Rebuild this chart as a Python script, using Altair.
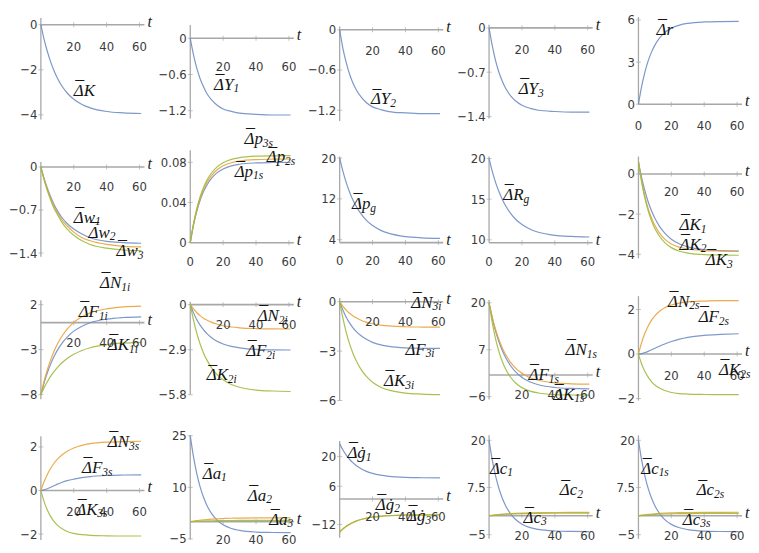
import altair as alt
import pandas as pd

# ---------------- data ----------------
T = [0, 2, 4, 6, 8, 10, 13, 16, 20, 25, 30, 40, 50, 61]

dK = [0, -0.66, -1.20, -1.66, -2.04, -2.36, -2.74, -3.03, -3.31, -3.54, -3.69, -3.85, -3.91, -3.94]
dY1 = [0, -0.28, -0.50, -0.67, -0.80, -0.91, -1.02, -1.10, -1.17, -1.21, -1.24, -1.26, -1.27, -1.27]
dY2 = [0, -0.28, -0.49, -0.66, -0.79, -0.89, -1.00, -1.08, -1.15, -1.19, -1.22, -1.24, -1.25, -1.25]
dY3 = [0, -0.29, -0.52, -0.70, -0.84, -0.95, -1.07, -1.15, -1.22, -1.27, -1.30, -1.32, -1.33, -1.33]
dr = [0, 1.30, 2.32, 3.12, 3.73, 4.21, 4.74, 5.10, 5.42, 5.64, 5.76, 5.86, 5.89, 5.90]

dw1 = [0, -0.19, -0.35, -0.49, -0.61, -0.71, -0.83, -0.92, -1.01, -1.09, -1.15, -1.21, -1.23, -1.24]
dw2 = [0, -0.20, -0.37, -0.51, -0.64, -0.74, -0.87, -0.96, -1.06, -1.15, -1.20, -1.26, -1.29, -1.30]
dw3 = [0, -0.21, -0.39, -0.54, -0.67, -0.77, -0.91, -1.01, -1.11, -1.20, -1.26, -1.32, -1.35, -1.36]
dp1s = [0, 0.0177, 0.0314, 0.0422, 0.0506, 0.0570, 0.0642, 0.0692, 0.0734, 0.0765, 0.0781, 0.0794, 0.0798, 0.0800]
dp2s = [0, 0.0184, 0.0327, 0.0440, 0.0526, 0.0594, 0.0669, 0.0721, 0.0765, 0.0796, 0.0813, 0.0827, 0.0831, 0.0833]
dp3s = [0, 0.0192, 0.0341, 0.0458, 0.0548, 0.0618, 0.0696, 0.0750, 0.0796, 0.0829, 0.0846, 0.0861, 0.0865, 0.0867]
dpg = [20, 17.38, 15.18, 13.36, 11.83, 10.57, 9.05, 7.88, 6.76, 5.83, 5.23, 4.61, 4.37, 4.26]
dRg = [20, 18.39, 17.04, 15.93, 14.99, 14.21, 13.28, 12.56, 11.87, 11.30, 10.93, 10.55, 10.41, 10.34]
dK1 = [0.6, -0.21, -0.87, -1.41, -1.85, -2.21, -2.64, -2.95, -3.25, -3.49, -3.63, -3.77, -3.82, -3.84]
dK2 = [0.6, -0.38, -1.15, -1.75, -2.21, -2.57, -2.97, -3.25, -3.49, -3.65, -3.74, -3.82, -3.84, -3.85]
dK3 = [0.6, -0.43, -1.23, -1.86, -2.34, -2.72, -3.13, -3.42, -3.67, -3.85, -3.94, -4.02, -4.04, -4.05]

dN1i = [-8, -6.48, -5.20, -4.11, -3.18, -2.41, -1.46, -0.71, 0.03, 0.66, 1.09, 1.54, 1.75, 1.84]
dF1i = [-8, -6.66, -5.54, -4.58, -3.76, -3.08, -2.25, -1.60, -0.94, -0.39, -0.01, 0.39, 0.57, 0.65]
dK1i = [-8, -7.22, -6.53, -5.94, -5.43, -4.99, -4.43, -3.98, -3.52, -3.09, -2.79, -2.44, -2.27, -2.18]
dN2i = [0, -0.28, -0.52, -0.71, -0.87, -0.99, -1.14, -1.25, -1.36, -1.44, -1.49, -1.54, -1.56, -1.57]
dF2i = [0, -0.53, -0.97, -1.32, -1.61, -1.85, -2.13, -2.34, -2.53, -2.69, -2.78, -2.88, -2.91, -2.92]
dK2i = [0, -1.01, -1.85, -2.53, -3.09, -3.54, -4.07, -4.47, -4.84, -5.14, -5.32, -5.50, -5.56, -5.59]
dN3i = [0, -0.28, -0.51, -0.70, -0.85, -0.98, -1.13, -1.24, -1.34, -1.42, -1.47, -1.52, -1.54, -1.55]
dF3i = [0, -0.52, -0.94, -1.29, -1.57, -1.80, -2.07, -2.27, -2.47, -2.62, -2.71, -2.80, -2.83, -2.84]
dK3i = [0, -1.02, -1.86, -2.55, -3.11, -3.57, -4.11, -4.51, -4.89, -5.19, -5.37, -5.55, -5.61, -5.64]
dN1s = [20, 15.91, 12.54, 9.81, 7.55, 5.72, 3.57, 1.97, 0.45, -0.75, -1.47, -2.19, -2.44, -2.55]
dF1s = [20, 15.67, 12.11, 9.22, 6.83, 4.90, 2.62, 0.93, -0.67, -1.94, -2.71, -3.47, -3.73, -3.85]
dK1s = [20, 14.34, 9.94, 6.48, 3.82, 1.75, -0.56, -2.14, -3.50, -4.47, -4.99, -5.42, -5.55, -5.60]
dN2s = [0, 0.53, 0.94, 1.27, 1.52, 1.71, 1.93, 2.08, 2.20, 2.29, 2.34, 2.38, 2.40, 2.40]
dF2s = [0, 0.02, 0.06, 0.12, 0.19, 0.26, 0.36, 0.45, 0.56, 0.67, 0.75, 0.84, 0.88, 0.91]
dK2s = [0, -0.46, -0.80, -1.05, -1.25, -1.39, -1.54, -1.64, -1.73, -1.78, -1.80, -1.82, -1.83, -1.83]

dN3s = [0, 0.41, 0.75, 1.02, 1.25, 1.43, 1.64, 1.80, 1.95, 2.07, 2.15, 2.22, 2.24, 2.26]
dF3s = [0, 0.03, 0.08, 0.15, 0.22, 0.29, 0.38, 0.45, 0.52, 0.59, 0.64, 0.69, 0.71, 0.72]
dK3s = [0, -0.52, -0.91, -1.20, -1.42, -1.59, -1.76, -1.88, -1.97, -2.03, -2.06, -2.08, -2.09, -2.09]
da1 = [25, 18.77, 13.92, 10.11, 7.18, 4.89, 2.35, 0.61, -0.89, -1.96, -2.52, -3.00, -3.14, -3.20]
da2 = [0, 0.18, 0.33, 0.45, 0.56, 0.65, 0.76, 0.85, 0.93, 1.01, 1.06, 1.11, 1.13, 1.14]
da3 = [0, 0.06, 0.11, 0.16, 0.19, 0.23, 0.26, 0.29, 0.32, 0.35, 0.37, 0.39, 0.39, 0.40]
dg1 = [26, 23.09, 20.69, 18.74, 17.13, 15.82, 14.30, 13.15, 12.07, 11.22, 10.70, 10.19, 10.01, 9.93]
dg2 = [-15.7, -14.20, -12.96, -11.96, -11.13, -10.45, -9.67, -9.08, -8.52, -8.08, -7.82, -7.55, -7.46, -7.42]
dg3 = [-15.5, -14.05, -12.86, -11.89, -11.09, -10.44, -9.68, -9.12, -8.58, -8.16, -7.90, -7.64, -7.56, -7.52]
dc1 = [20, 14.65, 10.49, 7.22, 4.71, 2.75, 0.57, -0.93, -2.22, -3.14, -3.62, -4.03, -4.15, -4.20]
dc2 = [0, 0.14, 0.25, 0.35, 0.44, 0.51, 0.59, 0.66, 0.73, 0.79, 0.83, 0.87, 0.89, 0.89]
dc3 = [0, 0.11, 0.20, 0.28, 0.34, 0.40, 0.46, 0.52, 0.57, 0.61, 0.64, 0.67, 0.69, 0.70]
dc1s = [20, 14.60, 10.40, 7.12, 4.62, 2.67, 0.50, -1.00, -2.28, -3.18, -3.66, -4.06, -4.17, -4.21]
dc2s = [0, 0.15, 0.27, 0.37, 0.46, 0.53, 0.62, 0.69, 0.76, 0.82, 0.86, 0.90, 0.92, 0.93]
dc3s = [0, 0.10, 0.18, 0.25, 0.31, 0.36, 0.42, 0.47, 0.52, 0.56, 0.59, 0.62, 0.63, 0.64]

GD = "\u0121"               # g with dot above

XTICKS_MID = [20, 40, 60]
XTICKS_ALL = [0, 20, 40, 60]

# panel specs: y domain, y tick labels, y-axis line extent, x-axis level, x tick labels, series,
# labels as (t, y, letter, subscript)
PANELS = [
    # ---------- row 1 ----------
    dict(dom=[-4.30, 0.34], yt=[0, -2, -4], vl=[-4.21, 0.30], ax=0, xl=XTICKS_MID, dy=22,
         s=[("b", dK)], lab=[(20, -2.92, "K", "")]),
    dict(dom=[-1.38, 0.35], yt=[0, -0.6, -1.2], vl=[-1.33, 0.22], ax=0, xl=XTICKS_MID, dy=29,
         s=[("b", dY1)], lab=[(14.5, -0.77, "Y", "1")]),
    dict(dom=[-1.37, 0.19], yt=[0, -0.6, -1.2], vl=[-1.36, 0.05], ax=0, xl=XTICKS_MID, dy=21,
         s=[("b", dY2)], lab=[(19, -1.04, "Y", "2")]),
    dict(dom=[-1.48, 0.17], yt=[0, -0.7, -1.4], vl=[-1.43, 0.05], ax=0, xl=XTICKS_MID, dy=22,
         s=[("b", dY3)], lab=[(18, -0.97, "Y", "3")]),
    dict(dom=[-1.24, 6.21], yt=[0, 3, 6], vl=[0, 6.21], ax=0, xl=XTICKS_ALL, dy=22,
         s=[("b", dr)], lab=[(11, 5.31, "r", "")]),
    # ---------- row 2 ----------
    dict(dom=[-1.53, 0.17], yt=[0, -0.7, -1.4], vl=[-1.46, 0.08], ax=0, xl=XTICKS_MID, dy=20,
         s=[("b", dw1), ("o", dw2), ("g", dw3)],
         lab=[(20, -0.83, "w", "1"), (29, -1.07, "w", "2"), (46, -1.37, "w", "3")]),
    dict(dom=[-0.0183, 0.0858], yt=[0, 0.04, 0.08], vl=[0, 0.092], ax=0, xl=XTICKS_ALL, dy=19,
         s=[("b", dp1s), ("o", dp2s), ("g", dp3s)],
         lab=[(27, 0.0704, "p", "1s"), (46.5, 0.0848, "p", "2s"), (33, 0.1031, "p", "3s")]),
    dict(dom=[-0.19, 20.3], yt=[4, 12, 20], vl=[3.43, 20.3], ax=3.43, xl=XTICKS_ALL, dy=19,
         s=[("b", dpg)], lab=[(7.5, 10.9, "p", "g")]),
    dict(dom=[7.38, 20.25], yt=[10, 15, 20], vl=[9.64, 20.25], ax=9.64, xl=XTICKS_ALL, dy=19,
         s=[("b", dRg)], lab=[(8.7, 15.5, "R", "g")]),
    dict(dom=[-4.34, 0.87], yt=[0, -2, -4], vl=[-4.2, 0.87], ax=0, xl=XTICKS_MID, dy=18,
         s=[("b", dK1), ("o", dK2), ("g", dK3)],
         lab=[(25, -2.55, "K", "1"), (25, -3.52, "K", "2"), (41, -4.29, "K", "3")]),
    # ---------- row 3 ----------
    dict(dom=[-8.65, 2.97], yt=[2, -3, -8], vl=[-8.5, 2.5], ax=0, xl=XTICKS_MID, dy=20,
         s=[("b", dF1i), ("o", dN1i), ("g", dK1i)],
         lab=[(36, 4.37, "N", "1i"), (23, 1.14, "F", "1i"), (40.7, -2.5, "K", "1i")]),
    dict(dom=[-6.17, 0.56], yt=[0, -2.9, -5.8], vl=[-5.8, 0.19], ax=0, xl=XTICKS_MID, dy=20,
         s=[("b", dF2i), ("o", dN2i), ("g", dK2i)],
         lab=[(41, -0.75, "N", "2i"), (34, -3.0, "F", "2i"), (10, -4.56, "K", "2i")]),
    dict(dom=[-6.0, 0.35], yt=[0, -3, -6], vl=[-6.0, 0.23], ax=0, xl=XTICKS_MID, dy=20,
         s=[("b", dF3i), ("o", dN3i), ("g", dK3i)],
         lab=[(43.6, -0.06, "N", "3i"), (40, -2.92, "F", "3i"), (27, -4.84, "K", "3i")]),
    dict(dom=[-7.07, 21.9], yt=[20, 7, -6], vl=[-6.8, 20.8], ax=0, xl=XTICKS_MID, dy=20,
         s=[("b", dF1s), ("o", dN1s), ("g", dK1s)],
         lab=[(46.5, 6.9, "N", "1s"), (24, -0.1, "F", "1s"), (39, -5.46, "K", "1s")]),
    dict(dom=[-2.09, 2.61], yt=[2, 0, -2], vl=[-2.09, 2.6], ax=0, xl=XTICKS_MID, dy=22,
         s=[("b", dF2s), ("o", dN2s), ("g", dK2s)],
         lab=[(18, 2.35, "N", "2s"), (36.6, 1.65, "F", "2s"), (49, -0.74, "K", "2s")]),
    # ---------- row 4 ----------
    dict(dom=[-2.27, 2.53], yt=[2, 0, -2], vl=[-2.27, 2.49], ax=0, xl=XTICKS_MID, dy=22,
         s=[("b", dF3s), ("o", dN3s), ("g", dK3s)],
         lab=[(40.7, 2.22, "N", "3s"), (25, 1.02, "F", "3s"), (21.5, -0.89, "K", "3s")]),
    dict(dom=[-5.3, 25.1], yt=[25, 10, -5], vl=[-5.2, 25.1], ax=0, xl=XTICKS_MID, dy=18,
         s=[("b", da1), ("o", da2), ("g", da3)],
         lab=[(7.6, 14.0, "a", "1"), (35, 7.6, "a", "2"), (48, 0.56, "a", "3")]),
    dict(dom=[-19.3, 30.0], yt=[20, 6, -12], vl=[-18.3, 27.4], ax=0, xl=XTICKS_MID, dy=18,
         s=[("b", dg1), ("o", dg2), ("g", dg3)],
         lab=[(4.7, 21.5, GD, "1"), (22, -2.7, GD, "2"), (41, -8.2, GD, "3")]),
    dict(dom=[-6.4, 21.3], yt=[20, 7.5, -5], vl=[-6.1, 21.3], ax=0, xl=XTICKS_MID, dy=20,
         s=[("b", dc1), ("o", dc2), ("g", dc3)],
         lab=[(0.5, 12.5, "c", "1"), (43, 6.7, "c", "2"), (21, -0.5, "c", "3")]),
    dict(dom=[-6.4, 21.3], yt=[20, 7.5, -5], vl=[-6.1, 21.3], ax=0, xl=XTICKS_MID, dy=20,
         s=[("b", dc1s), ("o", dc2s), ("g", dc3s)],
         lab=[(1.7, 12.5, "c", "1s"), (35.4, 6.7, "c", "2s"), (27, -1.0, "c", "3s")]),
]

# ---------------- styling ----------------
BLUE, ORANGE, GREEN = "#6F8DC4", "#E8A33A", "#9DBB3C"
AXC = "#A8A8A8"
TICKF = "Liberation Sans Narrow, DejaVu Sans Condensed, Liberation Sans, sans-serif"
SERIF = "Liberation Serif, DejaVu Serif, serif"
W, H = 104, 105
TMAX = 63
LFS = 17        # label font size
# approximate advance widths (em) used to place the subscripts
ADV = {"K": 0.667, "Y": 0.556, "r": 0.389, "w": 0.667, "p": 0.5, "R": 0.611, "F": 0.611,
       "N": 0.667, "a": 0.5, "c": 0.444, GD: 0.5}
DELTA_ADV = 0.612

xsc = alt.Scale(domain=[0, TMAX], nice=False, zero=False)
color = alt.Color("s:N", scale=alt.Scale(domain=["b", "o", "g"], range=[BLUE, ORANGE, GREEN]), legend=None)


def panel(p):
    ysc = alt.Scale(domain=p["dom"], nice=False, zero=False)
    yax = alt.Axis(values=p["yt"], labelExpr="replace(toString(datum.value), '-', '\u2212')",
                   domain=False, ticks=False, grid=False, title=None,
                   labelFont=TICKF, labelFontSize=13, labelColor="#3a3a3a", labelPadding=4)

    def X(f="t"):
        return alt.X(f"{f}:Q", scale=xsc, axis=None)

    def Y(f="y"):
        return alt.Y(f"{f}:Q", scale=ysc, axis=yax)

    vdf = pd.DataFrame({"t": [0], "y": [p["vl"][0]], "y2": [p["vl"][1]]})
    hdf = pd.DataFrame({"t": [0], "t2": [TMAX], "y": [p["ax"]]})
    rows = []
    for key, vals in p["s"]:
        for t, v in zip(T, vals):
            rows.append({"t": t, "y": v, "s": key})
    ldf = pd.DataFrame(rows)
    xt = pd.DataFrame({"t": [20, 40, 60], "y": [p["ax"]] * 3})
    yt = pd.DataFrame({"t": [0] * len(p["yt"]), "y": p["yt"]})
    xl = pd.DataFrame({"t": p["xl"], "y": [p["ax"]] * len(p["xl"]), "lab": [str(v) for v in p["xl"]]})
    tl = pd.DataFrame({"t": [TMAX], "y": [p["ax"]]})
    lab = pd.DataFrame([(t, y, "\u0394" + L) for t, y, L, _ in p["lab"]], columns=["t", "y", "txt"])

    layers = [
        alt.Chart(vdf).mark_rule(color=AXC, strokeWidth=1.3).encode(x=X(), y=Y(), y2="y2:Q"),
        alt.Chart(hdf).mark_rule(color=AXC, strokeWidth=1.6).encode(x=X(), x2="t2:Q", y=Y()),
        alt.Chart(xt).mark_tick(orient="vertical", size=5, thickness=1, color=AXC).encode(x=X(), y=Y()),
        alt.Chart(yt).mark_tick(orient="horizontal", size=5, thickness=1, color=AXC).encode(x=X(), y=Y()),
        alt.Chart(ldf).mark_line(interpolate="monotone", strokeWidth=1.2, opacity=0.9).encode(
            x=X(), y=Y(), color=color, detail="s:N"),
        alt.Chart(xl).mark_text(dy=p["dy"], font=TICKF, fontSize=13, color="#3a3a3a").encode(
            x=X(), y=Y(), text="lab:N"),
        alt.Chart(tl).mark_text(align="left", baseline="middle", dx=3, dy=-3, font=SERIF,
                                fontStyle="italic", fontSize=16, color="#222", text="t").encode(x=X(), y=Y()),
        # main label text (Delta + letter)
        alt.Chart(lab).mark_text(align="left", baseline="middle", font=SERIF, fontStyle="italic",
                                 fontSize=LFS, color="#151515").encode(x=X(), y=Y(), text="txt:N"),
        # bar above the Delta
        alt.Chart(lab).mark_text(align="left", baseline="middle", font=SERIF, fontSize=18, dx=1.5, dy=-11,
                                 color="#151515", text="\u2013").encode(x=X(), y=Y()),
    ]
    # subscripts
    for t, y, L, sub in p["lab"]:
        if not sub:
            continue
        sdf = pd.DataFrame({"t": [t], "y": [y], "txt": [sub]})
        layers.append(
            alt.Chart(sdf).mark_text(align="left", baseline="middle", font=SERIF, fontStyle="italic",
                                     fontSize=11.5, color="#151515",
                                     dx=(DELTA_ADV + ADV[L]) * LFS - 0.5, dy=4.5)
            .encode(x=X(), y=Y(), text="txt:N"))
    return alt.layer(*layers).properties(width=W, height=H)


charts = [panel(p) for p in PANELS]
chart = alt.concat(*charts, columns=5, spacing={"row": 35, "column": 46}, bounds="flush").properties(
    padding={"left": 0, "top": 0, "right": 0, "bottom": 0}
).configure_view(stroke=None)

chart.save("out.html", embed_options={"renderer": "svg", "actions": False})
